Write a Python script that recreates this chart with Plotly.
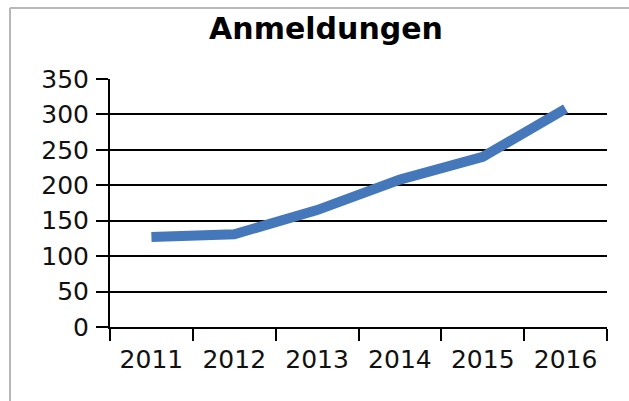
import plotly.graph_objects as go

years = ["2011", "2012", "2013", "2014", "2015", "2016"]
anmeldungen = [127, 131, 165, 208, 240, 308]
y_ticks = [0, 50, 100, 150, 200, 250, 300, 350]

W, H = 629, 401
L, R, T, B = 110, 22, 79, 74
FONT = "DejaVu Sans, Liberation Sans, Arial, sans-serif"

fig = go.Figure()
fig.add_trace(go.Scatter(
    x=years, y=anmeldungen, mode="lines",
    line=dict(color="#4578BA", width=10),
    showlegend=False,
))

fig.update_layout(
    width=W, height=H,
    margin=dict(l=L, r=R, t=T, b=B, autoexpand=False),
    paper_bgcolor="white", plot_bgcolor="white",
    font=dict(family=FONT, color="black", size=25),
    title=dict(text="<b>Anmeldungen</b>", x=326 / W, xanchor="center",
               y=1 - 28 / H, yanchor="middle",
               font=dict(size=30, family=FONT, color="black")),
    xaxis=dict(
        type="category", tickson="boundaries", ticks="outside", ticklen=12,
        tickwidth=2, tickcolor="black", showline=True, linecolor="black", linewidth=2,
        showgrid=False, range=[-0.5, 5.5], tickfont=dict(size=25, color="#111"),
        ticklabelstandoff=9,
    ),
    yaxis=dict(
        range=[0, 350], tickvals=y_ticks, ticks="outside", ticklen=12, tickwidth=2,
        tickcolor="black", showline=True, linecolor="black", linewidth=2,
        showgrid=True, gridcolor="black", gridwidth=2, zeroline=False,
        tickfont=dict(size=25, color="#111"), ticklabelstandoff=2,
    ),
    shapes=[
        dict(type="line", xref="paper", yref="paper",
             x0=(10 - L) / (W - L - R), x1=1.2,
             y0=(H - B - 8) / (H - T - B), y1=(H - B - 8) / (H - T - B),
             line=dict(color="#b8b8b8", width=2)),
        dict(type="line", xref="paper", yref="paper",
             x0=(10 - L) / (W - L - R), x1=(10 - L) / (W - L - R),
             y0=(H - B - 8) / (H - T - B), y1=-0.4,
             line=dict(color="#b8b8b8", width=2)),
    ],
)

fig.write_html("out.html")
